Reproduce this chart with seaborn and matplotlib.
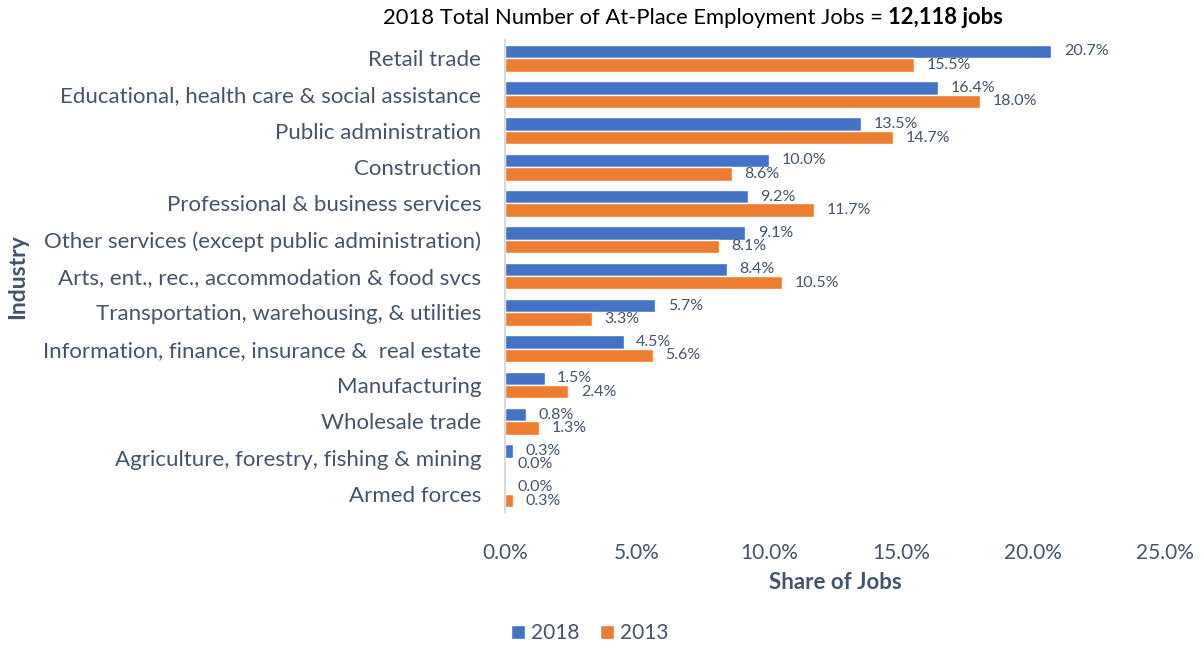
import pandas as pd
import matplotlib
matplotlib.use('Agg')
import matplotlib.pyplot as plt
from matplotlib.ticker import FuncFormatter
import seaborn as sns

industries = [
    'Retail trade',
    'Educational, health care & social assistance',
    'Public administration',
    'Construction',
    'Professional & business services',
    'Other services (except public administration)',
    'Arts, ent., rec., accommodation & food svcs',
    'Transportation, warehousing, & utilities',
    'Information, finance, insurance &  real estate',
    'Manufacturing',
    'Wholesale trade',
    'Agriculture, forestry, fishing & mining',
    'Armed forces',
]
share_2018 = [20.7, 16.4, 13.5, 10.0, 9.2, 9.1, 8.4, 5.7, 4.5, 1.5, 0.8, 0.3, 0.0]
share_2013 = [15.5, 18.0, 14.7, 8.6, 11.7, 8.1, 10.5, 3.3, 5.6, 2.4, 1.3, 0.0, 0.3]
years = ['2018', '2013']
colors = ['#4472C4', '#ED7D31']
text_color = '#44546A'

df = pd.DataFrame({
    'Industry': industries * 2,
    'Share': share_2018 + share_2013,
    'Year': [years[0]] * len(industries) + [years[1]] * len(industries),
})

sns.set_style('white')
plt.rcParams['font.family'] = ['Lato', 'DejaVu Sans']

fig = plt.figure(figsize=(12.04, 6.46), dpi=100)
ax = fig.add_axes([0.4194, 0.2074, 0.5482, 0.7306])

sns.barplot(data=df, y='Industry', x='Share', hue='Year', orient='h',
            palette=colors, width=0.74, saturation=1, ax=ax, legend=True)

for cont in ax.containers:
    ax.bar_label(cont, labels=[f'{v:.1f}%' for v in cont.datavalues],
                 padding=9, fontsize=11.5, color=text_color)

ax.set_xlim(0, 25)
ax.set_xticks([0, 5, 10, 15, 20, 25])
ax.xaxis.set_major_formatter(FuncFormatter(lambda v, p: f'{v:.1f}%'))
ax.tick_params(axis='x', length=0, pad=22, labelsize=15, labelcolor=text_color)
ax.tick_params(axis='y', length=0, pad=17, labelsize=16, labelcolor=text_color)

for s in ['top', 'right', 'bottom']:
    ax.spines[s].set_visible(False)
ax.spines['left'].set_color('#D9D9D9')
ax.spines['left'].set_linewidth(1.5)

ax.set_xlabel('Share of Jobs', fontsize=16, fontweight='bold', color=text_color, labelpad=7)
ax.set_ylabel('')
fig.text(0.015, 0.5725, 'Industry', rotation=90, fontsize=16.5, fontweight='bold',
         color=text_color, va='center', ha='center')

t = fig.text(0.318, 0.972, '2018 Total Number of At-Place Employment Jobs = ',
             fontsize=15.8, color='black', va='center', ha='left')
ax.annotate('12,118 jobs', xy=(1, 0), xycoords=t, va='bottom', ha='left',
            fontsize=15.8, fontweight='bold', color='black')

handles, labels = ax.get_legend_handles_labels()
ax.get_legend().remove()
fig.legend(handles, labels, loc='center', bbox_to_anchor=(0.49, 0.02), ncol=2,
           frameon=False, fontsize=15, labelcolor=text_color,
           handlelength=0.65, handleheight=0.65, handletextpad=0.3, columnspacing=1.0)

fig.savefig('out.png', dpi=100)
